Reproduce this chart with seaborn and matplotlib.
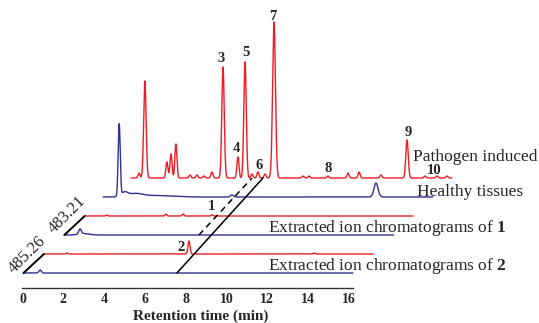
import numpy as np
import seaborn as sns
import matplotlib
matplotlib.use("Agg")
import matplotlib.pyplot as plt

# Peak tables: retention time (min), height, width (min)
path_rt = [5.71, 6.00, 7.08, 7.28, 7.52, 8.21, 8.55, 8.90, 9.29, 9.83, 10.56, 10.91,
           11.25, 11.54, 11.89, 12.33, 13.75, 14.04, 14.97, 15.96, 16.50, 17.57,
           18.85, 19.73, 20.32, 20.81]
path_h = [5, 97, 16, 24, 34, 3, 3, 2, 6, 111, 21, 116, 4, 6, 4, 156, 2, 2, 2, 5, 6, 3,
          38, 2, 2, 2]
path_w = [0.05, 0.06, 0.05, 0.05, 0.05, 0.05, 0.05, 0.05, 0.05, 0.06, 0.05, 0.06,
          0.05, 0.05, 0.05, 0.07, 0.05, 0.05, 0.05, 0.05, 0.05, 0.05, 0.06, 0.05,
          0.05, 0.05]

healthy_rt = [4.74, 5.00, 5.50, 6.50, 10.27, 17.33]
healthy_h = [72, 4, 3, 1.5, 2, 14]
healthy_w = [0.05, 0.15, 0.35, 0.8, 0.08, 0.1]

eic1_path_rt = [4.14, 7.03, 7.87, 9.29]
eic1_path_h = [1, 2, 2, 1.2]
eic1_path_w = [0.04, 0.04, 0.04, 0.04]

eic1_healthy_rt = [2.82, 3.00]
eic1_healthy_h = [5, 1.5]
eic1_healthy_w = [0.06, 0.25]

eic2_path_rt = [2.18, 8.16, 14.30]
eic2_path_h = [1, 13, 1]
eic2_path_w = [0.04, 0.05, 0.05]

eic2_healthy_rt = [0.86]
eic2_healthy_h = [3]
eic2_healthy_w = [0.06]

# peak numbers and where they sit
peak_labels = ["3", "5", "7", "4", "6", "9", "8", "10", "1", "2"]
peak_label_x = [9.73, 10.95, 12.28, 10.51, 11.60, 18.90, 14.97, 20.20, 9.24, 7.75]
peak_label_y = [229, 235, 271, 139, 122.5, 155.5, 119.5, 117, 81, 40.5]

RED = "#ee1c24"
BLUE = "#2e3192"


def trace(start, end, base, rts, hs, ws):
    t = np.arange(start, end, 0.005)
    y = np.full_like(t, base, dtype=float)
    for rt, h, w in zip(rts, hs, ws):
        y += h * np.exp(-0.5 * ((t - rt) / w) ** 2)
    return t, y


sns.set_style("white")
plt.rcParams["font.family"] = ["Liberation Serif", "DejaVu Serif"]
plt.rcParams["mathtext.fontset"] = "custom"
plt.rcParams["mathtext.rm"] = "Liberation Serif"
plt.rcParams["mathtext.bf"] = "Liberation Serif:bold"

fig = plt.figure(figsize=(5.39, 3.23), dpi=100)
ax = fig.add_axes([0, 35 / 323, 1, 288 / 323])

# (start, end, baseline, peaks, colour) for each stacked trace
traces = [
    (0.05, 16.2, 15, eic2_healthy_rt, eic2_healthy_h, eic2_healthy_w, BLUE),
    (1.05, 17.2, 34, eic2_path_rt, eic2_path_h, eic2_path_w, RED),
    (2.05, 18.2, 53, eic1_healthy_rt, eic1_healthy_h, eic1_healthy_w, BLUE),
    (3.05, 19.15, 72, eic1_path_rt, eic1_path_h, eic1_path_w, RED),
    (3.95, 20.12, 91, healthy_rt, healthy_h, healthy_w, BLUE),
    (5.32, 21.05, 110, path_rt, path_h, path_w, RED),
]
for start, end, base, rts, hs, ws, col in traces:
    t, y = trace(start, end, base, rts, hs, ws)
    sns.lineplot(x=t, y=y, ax=ax, color=col, linewidth=1.0, estimator=None, sort=False)

# m/z markers for the extracted ion chromatograms
ax.plot([0.05, 1.05], [15, 34], color="black", lw=1.4)
ax.plot([2.05, 3.05], [53, 72], color="black", lw=1.4)
ax.text(0.22, 33, "485.26", rotation=45, ha="center", va="center", fontsize=12)
ax.text(2.20, 73, "483.21", rotation=45, ha="center", va="center", fontsize=12)

# guide lines linking peaks 1 and 2 to the full chromatograms
ax.plot([7.57, 11.79], [15, 110], color="black", lw=1.1)
ax.plot([8.65, 11.25], [53, 110], color="black", lw=1.1, ls=(0, (4, 3)))

for lab, x, y in zip(peak_labels, peak_label_x, peak_label_y):
    ax.text(x, y, lab, ha="center", va="center", fontsize=10.5, fontweight="bold")

ax.text(19.14, 127, "Pathogen induced", fontsize=12.5, va="baseline")
ax.text(19.34, 92, "Healthy tissues", fontsize=12.5, va="baseline")
ax.text(12.03, 56, r"Extracted ion chromatograms of $\mathbf{1}$", fontsize=12.5, va="baseline")
ax.text(12.03, 18, r"Extracted ion chromatograms of $\mathbf{2}$", fontsize=12.5, va="baseline")

ax.set_xlim(-1.103, 25.32)
ax.set_ylim(0, 288)
for s in ["top", "right", "left"]:
    ax.spines[s].set_visible(False)
ax.spines["bottom"].set_bounds(-0.03, 16.2)
ax.spines["bottom"].set_color("#333333")
ax.spines["bottom"].set_linewidth(1.0)
ax.set_yticks([])
ax.set_xticks(range(0, 17, 2))
ax.tick_params(axis="x", length=0, pad=3.5, labelsize=10)
for lbl in ax.get_xticklabels():
    lbl.set_fontweight("bold")
ax.set_xlabel("Retention time (min)", fontsize=11, fontweight="bold")
ax.xaxis.set_label_coords(200.5 / 539, -28 / 288)
ax.xaxis.label.set_va("center")

fig.savefig("out.png", dpi=100)
